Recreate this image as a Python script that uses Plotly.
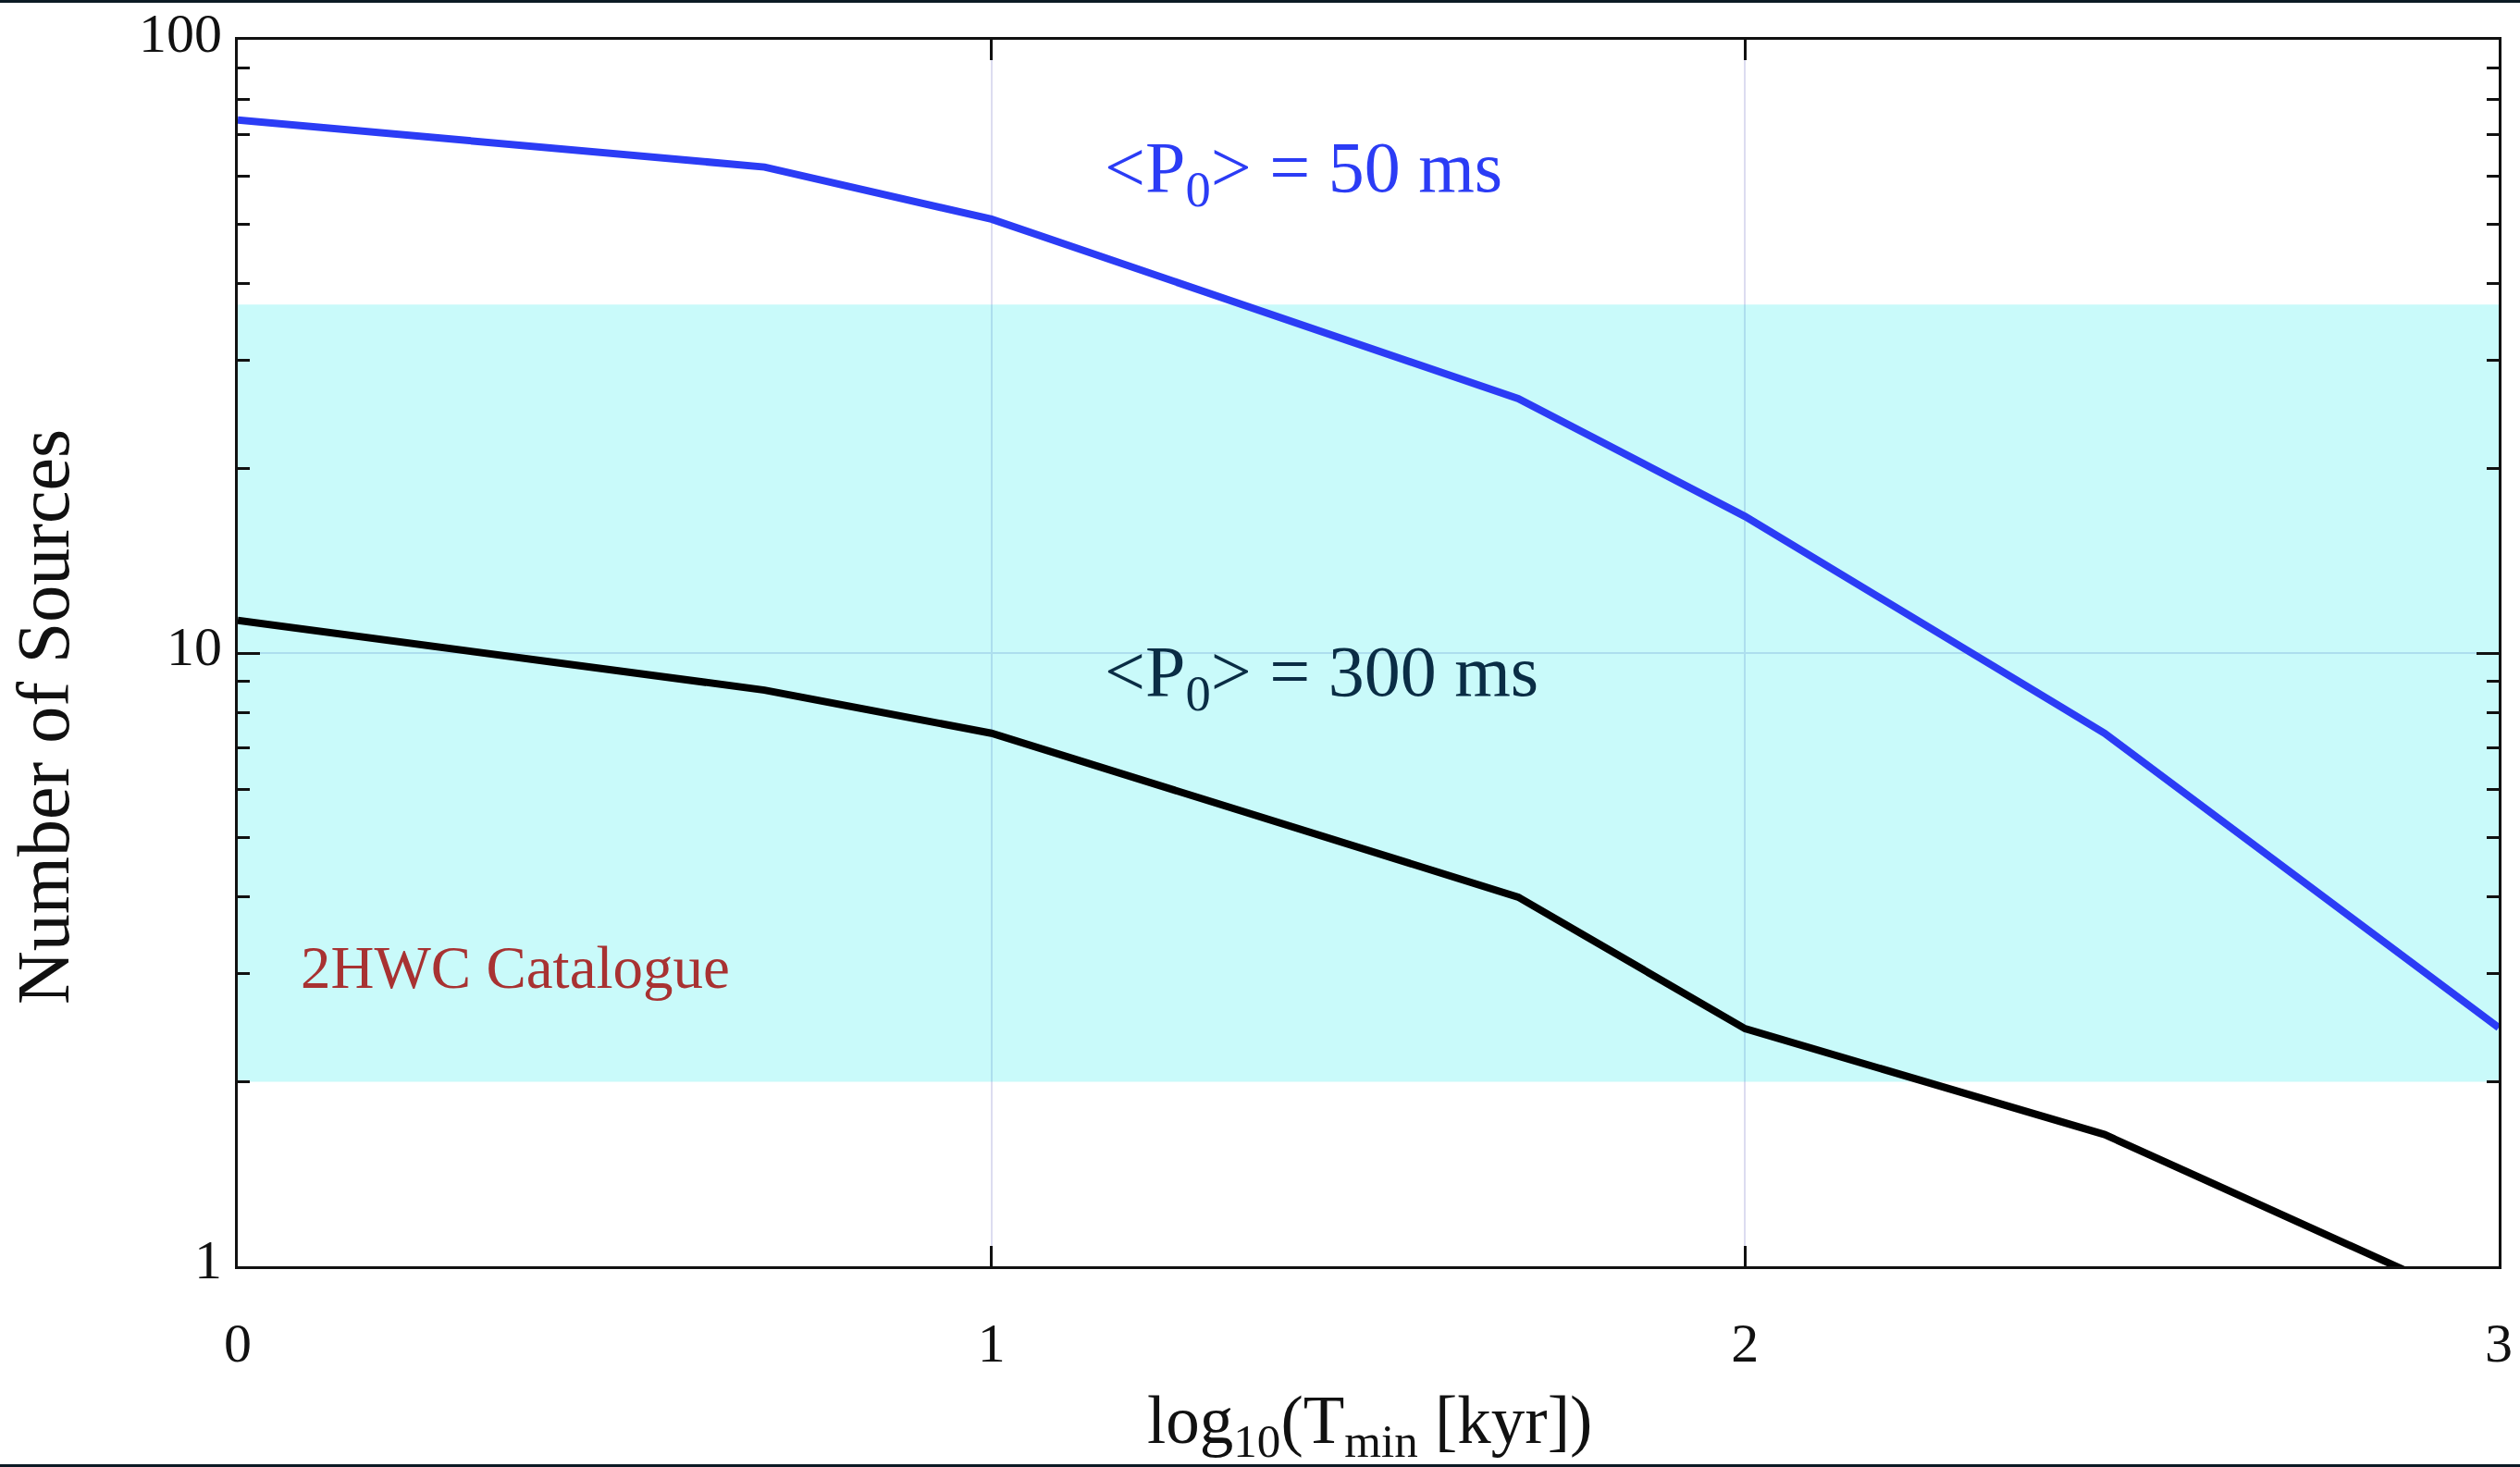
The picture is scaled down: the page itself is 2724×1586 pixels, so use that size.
import numpy as np
import plotly.graph_objects as go

# ---- data ----
T_min_kyr = [1, 5, 10, 50, 100, 300, 1000]
n_sources_P50 = [74, 62, 51, 26, 16.7, 7.4, 2.45]
n_sources_P300 = [11.3, 8.7, 7.4, 4.0, 2.44, 1.64, 0.84]
hwc_band = [2.0, 37.0]          # 2HWC catalogue band (low, high)
x_ticks = [0, 1, 2, 3]
x_tick_text = ["0", "1", "2", "3"]
y_ticks = [1, 10, 100]
y_tick_text = ["1", "10", "100"]
y_minor_ticks = [2, 3, 4, 5, 6, 7, 8, 9, 20, 30, 40, 50, 60, 70, 80, 90]

x_log = np.log10(T_min_kyr)

FONT = "Liberation Serif, Times New Roman, serif"
W, H = 2724, 1586
L, R, T, B = 257, 23, 43, 217
PW, PH = W - L - R, H - T - B

fig = go.Figure()

# 2HWC band
fig.add_trace(go.Scatter(
    x=[x_ticks[0], x_ticks[-1], x_ticks[-1], x_ticks[0], x_ticks[0]],
    y=[hwc_band[0], hwc_band[0], hwc_band[1], hwc_band[1], hwc_band[0]],
    mode="lines", fill="toself", fillcolor="rgba(0,230,230,0.21)",
    line=dict(width=0), hoverinfo="skip", showlegend=False, name="2HWC Catalogue"))

fig.add_trace(go.Scatter(
    x=x_log, y=n_sources_P50, mode="lines", name="<P0> = 50 ms",
    line=dict(color="#2b3cf5", width=8), showlegend=False))
fig.add_trace(go.Scatter(
    x=x_log, y=n_sources_P300, mode="lines", name="<P0> = 300 ms",
    line=dict(color="#000000", width=8), showlegend=False))

axis_common = dict(
    showline=True, linecolor="#111111", linewidth=3, mirror="ticks",
    ticks="inside", tickcolor="#111111", tickwidth=3, automargin=False,
    showgrid=True, gridcolor="#dcdcf0", gridwidth=2, zeroline=False,
    tickfont=dict(family=FONT, size=60, color="#111111"),
)

fig.update_layout(
    width=W, height=H,
    margin=dict(l=L, r=R, t=T, b=B, pad=0, autoexpand=False),
    paper_bgcolor="white", plot_bgcolor="white",
    showlegend=False,
    xaxis=dict(range=[x_ticks[0], x_ticks[-1]], tickmode="array",
               tickvals=x_ticks, ticktext=x_tick_text, ticklen=22,
               ticklabelstandoff=28, **axis_common),
    yaxis=dict(type="log", range=[0, 2], tickmode="array",
               tickvals=y_ticks, ticktext=y_tick_text, ticklen=24,
               ticklabelstandoff=2, ticklabelshift=-8,
               minor=dict(tickmode="array", tickvals=y_minor_ticks, ticks="inside",
                          ticklen=13, tickwidth=3, tickcolor="#111111", showgrid=False),
               **axis_common),
)

def px_to_paper_x(px):
    return (px - L) / PW

def px_to_paper_y(py):
    return (H - B - py) / PH

annotations = [
    dict(text="&lt;P<sub>0</sub>&gt; = 50 ms", x=1.148, y=1.785, xref="x", yref="y",
         xanchor="left", yanchor="middle", showarrow=False,
         font=dict(family=FONT, size=78, color="#2b3cf5")),
    dict(text="&lt;P<sub>0</sub>&gt; = 300 ms", x=1.148, y=0.962, xref="x", yref="y",
         xanchor="left", yanchor="middle", showarrow=False,
         font=dict(family=FONT, size=78, color="#0a2d45")),
    dict(text="2HWC Catalogue", x=0.081, y=0.487, xref="x", yref="y",
         xanchor="left", yanchor="middle", showarrow=False,
         font=dict(family=FONT, size=65, color="#a83232")),
    dict(text="Number of Sources", textangle=-90,
         x=px_to_paper_x(47), y=px_to_paper_y(775), xref="paper", yref="paper",
         xanchor="center", yanchor="middle", showarrow=False,
         font=dict(family=FONT, size=80, color="#111111")),
    dict(text="log<sub>10</sub>(T<sub>min</sub> [kyr])",
         x=px_to_paper_x(1480), y=px_to_paper_y(1540), xref="paper", yref="paper",
         xanchor="center", yanchor="middle", showarrow=False,
         font=dict(family=FONT, size=73, color="#111111")),
]
fig.update_layout(annotations=annotations)

# thin dark frame strips at the top and bottom of the picture
for y0, y1 in [(0, 3), (H - 3, H)]:
    fig.add_shape(type="rect", xref="paper", yref="paper",
                  x0=px_to_paper_x(0), x1=px_to_paper_x(W),
                  y0=px_to_paper_y(y1), y1=px_to_paper_y(y0),
                  fillcolor="#0b1a24", line=dict(width=0), layer="above")

fig.write_html("out.html", config={"displayModeBar": False},
               post_script="document.body.style.margin='0';document.body.style.overflow='hidden';")
